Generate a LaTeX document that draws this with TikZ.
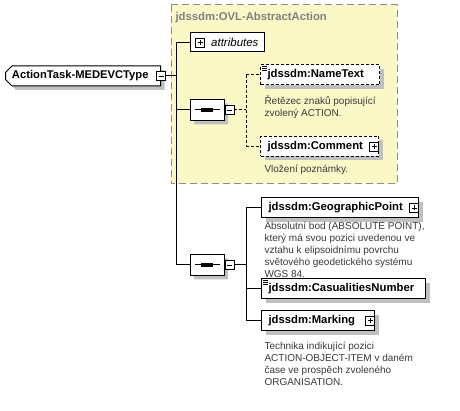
\documentclass[tikz,border=0pt]{standalone}
\usepackage{fontspec}
\setmainfont{Liberation Sans}
\usetikzlibrary{shapes.misc,shadows}
\definecolor{groupfill}{RGB}{251,248,200}
\definecolor{shadowgrey}{RGB}{192,192,192}
\newcommand\elemfont{\bfseries\fontsize{11.3}{13}\selectfont}
\newcommand\descfont{\fontsize{10}{12}\selectfont}
\begin{document}
\begin{tikzpicture}
	[x=1pt,y=-1pt,line width=1pt,
		boxshadow/.style={drop shadow={shadow xshift=4pt,shadow yshift=-4pt,fill=shadowgrey,opacity=1}},
		root/.style={chamfered rectangle,chamfered rectangle corners={north west,south west},chamfered rectangle xsep=3pt,
			draw,fill=white,boxshadow,anchor=west,minimum width=155pt,minimum height=20pt,inner xsep=2pt,inner ysep=0pt,
			font=\bfseries\fontsize{11.2}{13}\selectfont},
		elem/.style={draw,fill=white,boxshadow,anchor=west,minimum height=20pt,inner xsep=7pt,inner ysep=0pt,align=left,font=\elemfont},
		optional/.style={elem,dash pattern=on 3pt off 2pt},
		desc/.style={anchor=north west,inner sep=0pt,align=left,font=\descfont,text=black!78},
		icon/.style={draw,fill=white,minimum size=9pt,inner sep=0pt,line width=0.8pt},
		minusicon/.style={icon,path picture={\draw ([xshift=2pt]path picture bounding box.west) -- ([xshift=-2pt]path picture bounding box.east);}},
		plusicon/.style={icon,path picture={\draw ([xshift=2pt]path picture bounding box.west) -- ([xshift=-2pt]path picture bounding box.east)
			([yshift=2pt]path picture bounding box.south) -- ([yshift=-2pt]path picture bounding box.north);}},
		seq/.style={chamfered rectangle,chamfered rectangle xsep=4pt,draw,fill=white,boxshadow,minimum width=34pt,minimum height=21pt,inner sep=0pt,
			path picture={\draw ([xshift=5pt]path picture bounding box.west) -- ([xshift=-4pt]path picture bounding box.east);
				\foreach \dx in {-4,0,4} \fill[black] ([xshift=\dx pt]path picture bounding box.center) ++(-1.6pt,-1.6pt) rectangle ++(3.2pt,3.2pt);}},
		groupborder/.style={draw=black!45,dash pattern=on 7pt off 4pt,fill=groupfill},
		grouptitle/.style={anchor=west,inner sep=0pt,font=\elemfont,text=black!50},
		optconn/.style={dash pattern=on 3pt off 2pt}]
	\useasboundingbox (0,0) rectangle (460,411);
	\draw[groupborder] (171,5) rectangle (397,184);
	\node[grouptitle] (grp) at (175,18) {jdssdm:OVL-AbstractAction};
	\node[root] (root) at (5,76) {\makebox[142pt][l]{ActionTask-MEDEVCType}};
	\node[minusicon] (rootmin) at (root.east) {};
	\node[draw,fill=white,anchor=west,minimum height=19pt,inner xsep=6pt,inner ysep=0pt,text width=62pt,align=right,
		font=\itshape\fontsize{11.5}{13}\selectfont] (attr) at (190,42.5) {attributes};
	\node[plusicon] (attrplus) at ([xshift=10pt]attr.west) {};
	\node[seq] (seqa) at (207,110) {};
	\node[minusicon,anchor=west] (seqamin) at (seqa.east) {};
	\node[optional,text width=105pt] (name) at (260,75) {jdssdm:NameText};
	\node[desc] (namedesc) at (264,95) {Řetězec znaků popisující\\zvolený ACTION.};
	\node[optional,text width=104pt] (comm) at (260,146.5) {jdssdm:Comment};
	\node[plusicon,anchor=east] (commplus) at (comm.east) {};
	\node[desc] (commdesc) at (264,164.5) {Vložení poznámky.};
	\node[seq] (seqb) at (207,265) {};
	\node[minusicon,anchor=west] (seqbmin) at (seqb.east) {};
	\node[elem,text width=143pt] (geo) at (261,208) {jdssdm:GeographicPoint};
	\node[plusicon,anchor=east] (geoplus) at (geo.east) {};
	\node[desc] (geodesc) at (264,222) {Absolutní bod (ABSOLUTE POINT),\\který má svou pozici uvedenou ve\\vztahu k elipsoidnímu povrchu\\světového geodetického systému\\WGS 84.};
	\node[elem,text width=150pt] (cas) at (261,289) {jdssdm:CasualitiesNumber};
	\node[elem,text width=99pt] (mark) at (261,320.5) {jdssdm:Marking};
	\node[plusicon,anchor=east] (markplus) at (mark.east) {};
	\node[desc] (markdesc) at (264,342) {Technika indikující pozici\\ACTION-OBJECT-ITEM v daném\\čase ve prospěch zvoleného\\ORGANISATION.};
	% small list marks on simple types
	\foreach \n in {name,cas}
		\foreach \k in {0,1,2}
			\draw[line width=0.6pt] ([shift={(2pt,-2pt-\k*2pt)}]\n.north west) -- ++(5pt,0);
	\coordinate (trunk) at (176,0);
	\coordinate (branch) at (246,0);
	\draw (rootmin.east) -- (rootmin.east -| trunk);
	\draw (attr.west -| trunk) -- (seqb.west -| trunk);
	\foreach \n in {attr,seqa,seqb}
		\draw (\n.west -| trunk) -- (\n.west);
	\draw[optconn] (seqamin.east) -- (seqamin.east -| branch);
	\draw[optconn] (name.west -| branch) -- (comm.west -| branch);
	\foreach \n in {name,comm}
		\draw[optconn] (\n.west -| branch) -- (\n.west);
	\draw (seqbmin.east) -- (seqbmin.east -| branch);
	\draw (geo.west -| branch) -- (mark.west -| branch);
	\foreach \n in {geo,cas,mark}
		\draw (\n.west -| branch) -- (\n.west);
\end{tikzpicture}
\end{document}
